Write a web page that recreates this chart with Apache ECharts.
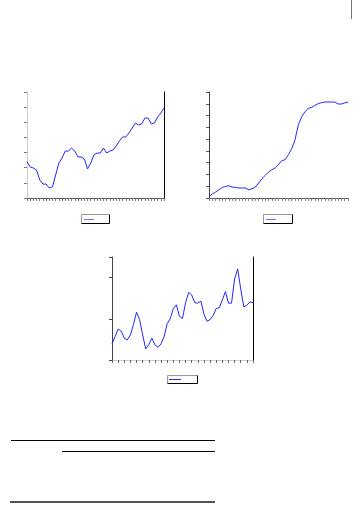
<!DOCTYPE html>
<html>
<head>
<meta charset="utf-8">
<script src="https://cdn.jsdelivr.net/npm/echarts@6/dist/echarts.min.js"></script>
<style>html,body{margin:0;padding:0;background:#fff;}#c{width:363px;height:512px;}</style>
</head>
<body>
<div id="c"></div>
<script>
// Series values (axis units estimated)
const seriesA = [24.0,20.5,19.8,18.5,11.9,9.2,9.2,6.6,7.3,15.2,23.1,26.4,31.0,31.0,33.0,31.0,27.1,27.1,25.8,19.2,23.1,28.4,29.7,29.7,33.0,29.7,31.0,31.7,34.3,37.6,40.3,40.3,42.9,46.2,49.5,48.2,48.9,52.8,52.8,48.9,49.5,53.5,56.1,59.4];
const seriesB = [1.4,3.4,5.1,7.0,9.0,9.8,10.4,9.3,9.0,8.5,8.5,8.5,7.0,7.9,9.3,12.7,16.4,19.2,22.1,24.0,25.5,28.3,31.7,32.5,36.8,41.9,49.5,62.2,68.8,73.3,76.1,76.9,78.6,80.1,80.9,81.5,81.5,81.5,81.5,79.8,79.8,80.7,81.5];
const seriesC = [0.39,0.57,0.75,0.70,0.53,0.49,0.61,0.86,1.16,0.98,0.61,0.27,0.37,0.53,0.37,0.31,0.39,0.57,0.88,1.00,1.25,1.34,1.06,1.01,1.39,1.64,1.58,1.39,1.38,1.43,1.11,0.94,0.98,1.08,1.25,1.27,1.46,1.66,1.38,1.38,1.97,2.21,1.72,1.29,1.33,1.41,1.39];
// Category labels (not legible in the reference; index placeholders)
const categoriesA = seriesA.map((_, i) => String(i + 1));
const categoriesB = seriesB.map((_, i) => String(i + 1));
const categoriesC = seriesC.map((_, i) => String(i + 1));
// Y axis ranges
const yRangeA = [0, 70, 10];
const yRangeB = [0, 90, 10];
const yRangeC = [0, 2.5, 1];

const chart = echarts.init(document.getElementById('c'), null, {renderer: 'canvas'});
const lineColor = '#2626ff';

function bottomX(gi, cats, lineCol, tickInt, tickCol) {
  return {type:'category', gridIndex:gi, data:cats, boundaryGap:false, position:'bottom',
    axisLine:{show:true, lineStyle:{color:lineCol, width:1}},
    axisTick:{show:true, length:3, interval:tickInt, lineStyle:{color:tickCol}},
    axisLabel:{show:false}, splitLine:{show:false}};
}
function topX(gi, cats, col) {
  return {type:'category', gridIndex:gi, data:cats, boundaryGap:false, position:'top',
    axisLine:{show:true, lineStyle:{color:col, width:1}}, axisTick:{show:false},
    axisLabel:{show:false}, splitLine:{show:false}};
}
function leftY(gi, r, col, tickCol) {
  return {type:'value', gridIndex:gi, min:r[0], max:r[1], interval:r[2], position:'left',
    axisLine:{show:true, lineStyle:{color:col, width:1}},
    axisTick:{show:true, length:3, lineStyle:{color:tickCol}},
    axisLabel:{show:false}, splitLine:{show:false}};
}
function rightY(gi, r, col, show) {
  return {type:'value', gridIndex:gi, min:r[0], max:r[1], interval:r[2], position:'right',
    axisLine:{show:show, lineStyle:{color:col, width:1}}, axisTick:{show:false},
    axisLabel:{show:false}, splitLine:{show:false}};
}

function legendBox(x1, y1, x2, y2, lx1, lx2, ly, lcol) {
  return [
    {type:'line', shape:{x1:x1, y1:y1, x2:x2, y2:y1}, style:{stroke:'#999', lineWidth:1}},
    {type:'line', shape:{x1:x1, y1:y1, x2:x1, y2:y2}, style:{stroke:'#999', lineWidth:1}},
    {type:'line', shape:{x1:x1, y1:y2, x2:x2, y2:y2}, style:{stroke:'#000', lineWidth:1}},
    {type:'line', shape:{x1:x2, y1:y1, x2:x2, y2:y2}, style:{stroke:'#000', lineWidth:1}},
    {type:'line', shape:{x1:lx1, y1:ly, x2:lx2, y2:ly}, style:{stroke:lcol, lineWidth:1}}
  ];
}

const option = {
  animation:false,
  backgroundColor:'#fff',
  grid:[
    {left:27, top:92, width:137, height:106},
    {left:209, top:92, width:139, height:106},
    {left:112, top:257, width:141, height:103}
  ],
  xAxis:[
    bottomX(0, categoriesA, '#e6e6e6', 0, '#777'),
    bottomX(1, categoriesB, '#e6e6e6', 0, '#888'),
    bottomX(2, categoriesC, '#666', 1, '#666'),
    topX(0, categoriesA, '#555'),
    topX(1, categoriesB, '#555'),
    topX(2, categoriesC, '#ccc')
  ],
  yAxis:[
    leftY(0, yRangeA, '#ccc', '#777'),
    leftY(1, yRangeB, '#444', '#555'),
    leftY(2, yRangeC, '#444', '#444'),
    rightY(0, yRangeA, '#000', true),
    rightY(1, yRangeB, '#000', false),
    rightY(2, yRangeC, '#000', true)
  ],
  series:[
    {type:'line', xAxisIndex:0, yAxisIndex:0, data:seriesA, showSymbol:false, lineStyle:{color:lineColor, width:1}, itemStyle:{color:lineColor}},
    {type:'line', xAxisIndex:1, yAxisIndex:1, data:seriesB, showSymbol:false, lineStyle:{color:lineColor, width:1}, itemStyle:{color:lineColor}},
    {type:'line', xAxisIndex:2, yAxisIndex:2, data:seriesC, showSymbol:false, lineStyle:{color:lineColor, width:1}, itemStyle:{color:lineColor}}
  ],
  graphic:[].concat(
    legendBox(81.5, 214.5, 109.5, 223.5, 84, 94, 219.5, '#6f6fff'),
    legendBox(263.5, 214.5, 292.5, 223.5, 266, 276, 219.5, '#6f6fff'),
    legendBox(167.5, 375.5, 197.5, 383.5, 169, 181, 379.5, '#2a2aff'),
    [
      {type:'line', shape:{x1:11, y1:440.5, x2:215, y2:440.5}, style:{stroke:'#000', lineWidth:1}},
      {type:'line', shape:{x1:62, y1:451.5, x2:215, y2:451.5}, style:{stroke:'#000', lineWidth:1}},
      {type:'line', shape:{x1:10, y1:502, x2:215, y2:502}, style:{stroke:'#555', lineWidth:2}},
      {type:'line', shape:{x1:351.5, y1:0, x2:351.5, y2:19}, style:{stroke:'#777', lineWidth:1}}
    ]
  )
};
chart.setOption(option);
</script>
</body>
</html>
